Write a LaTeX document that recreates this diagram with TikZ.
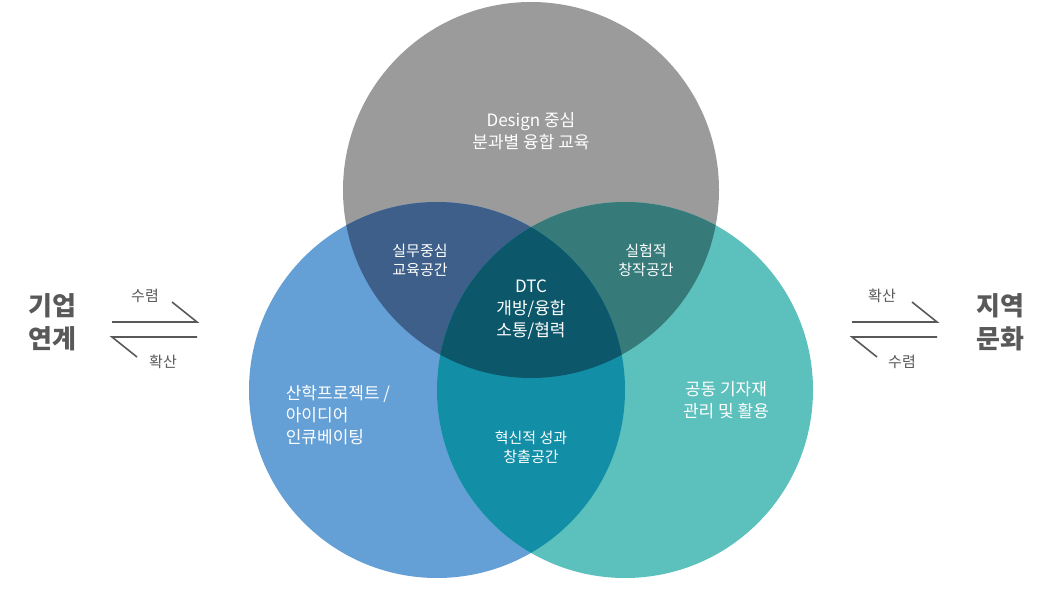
\documentclass[tikz,border=0pt]{standalone}
\usepackage{fontspec}
\setmainfont{Noto Sans CJK KR}
\begin{document}
\begin{tikzpicture}[x=1pt,y=-1pt,
  lbl/.style={text=white,align=center,font=\fontsize{17}{22}\selectfont},
  slbl/.style={text=white,align=center,font=\fontsize{15}{19}\selectfont},
  side/.style={text=black!65,align=center,font=\fontsize{26}{33}\selectfont\bfseries},
  arr/.style={text=black!65,font=\fontsize{15}{18}\selectfont},
  hp/.style={draw=black!65,line width=1.6pt}]
\useasboundingbox (0,0) rectangle (1056,601);
\def\T{(531,190) circle (188)}
\def\L{(437,390) circle (188)}
\def\R{(625,390) circle (188)}
\fill[fill={rgb,255:red,155;green,155;blue,155}] \T;
\fill[fill={rgb,255:red,100;green,160;blue,214}] \L;
\fill[fill={rgb,255:red,92;green,192;blue,188}] \R;
\begin{scope}\clip \T; \fill[fill={rgb,255:red,62;green,95;blue,138}] \L; \end{scope}
\begin{scope}\clip \T; \fill[fill={rgb,255:red,54;green,122;blue,122}] \R; \end{scope}
\begin{scope}\clip \L; \fill[fill={rgb,255:red,18;green,142;blue,166}] \R; \end{scope}
\begin{scope}\clip \T; \clip \L; \fill[fill={rgb,255:red,12;green,88;blue,106}] \R; \end{scope}
\node[lbl] (t) at (531,131) {Design 중심\\분과별 융합 교육};
\node[slbl] (tl) at (420,260) {실무중심\\교육공간};
\node[slbl] (tr) at (646,260) {실험적\\창작공간};
\node[lbl] (c) at (531,310) {DTC\\개방/융합\\소통/협력};
\node[lbl,align=left] (l) at (338,415) {산학프로젝트 /\\아이디어\\인큐베이팅};
\node[lbl] (r) at (726,400) {공동 기자재\\관리 및 활용};
\node[slbl] (b) at (531,447) {혁신적 성과\\창출공간};
\node[side] (ls) at (52,322) {기업\\연계};
\node[side] (rs) at (1000,322) {지역\\문화};
\coordinate (a1) at (112,322); \coordinate (a2) at (197,322); \coordinate (a3) at (172,302);
\coordinate (b1) at (112,337); \coordinate (b2) at (197,337); \coordinate (b3) at (137,357);
\draw[hp] (a1) -- (a2) -- (a3);
\draw[hp] (b2) -- (b1) -- (b3);
\node[arr] (la) at (145,296) {수렴};
\node[arr] (lb) at (163,362) {확산};
\coordinate (c1) at (852,322); \coordinate (c2) at (937,322); \coordinate (c3) at (912,302);
\coordinate (d1) at (852,337); \coordinate (d2) at (937,337); \coordinate (d3) at (877,357);
\draw[hp] (c1) -- (c2) -- (c3);
\draw[hp] (d2) -- (d1) -- (d3);
\node[arr] (ra) at (882,296) {확산};
\node[arr] (rb) at (902,362) {수렴};
\end{tikzpicture}
\end{document}
